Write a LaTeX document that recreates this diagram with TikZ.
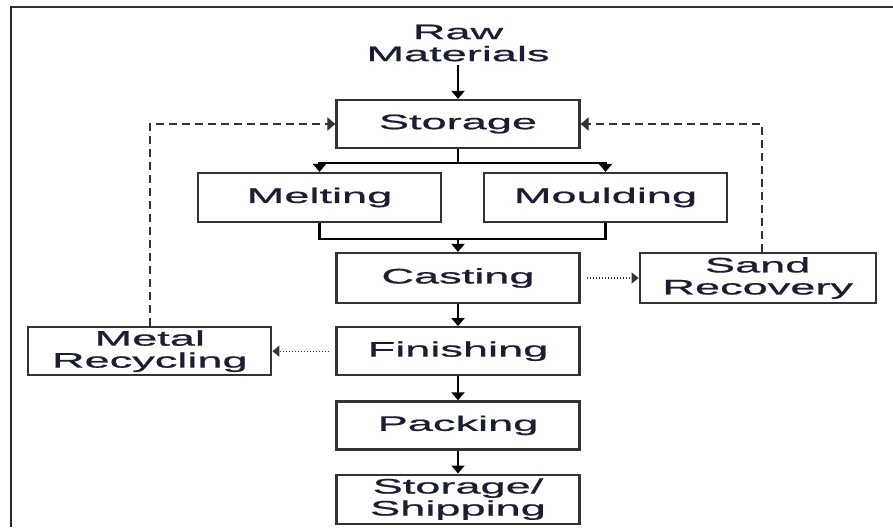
\documentclass[tikz,border=0pt]{standalone}
\usepackage{fontspec}
\setmainfont{Liberation Sans}[FakeStretch=2.15, FakeBold=0.9]
\usepackage{xcolor}
\usetikzlibrary{arrows.meta,positioning}

\definecolor{ink}{HTML}{1B1E33}

\begin{document}
\begin{tikzpicture}[
      x=1pt, y=-1pt,
      node distance=23pt,
      label/.style={align=center, text=ink, font=\fontsize{21}{22}\selectfont},
      box/.style={label, draw=black!80, line width=2.2pt, fill=white, inner sep=0pt, minimum width=243pt, minimum height=48pt},
      arrow/.style={line width=2.2pt, -{Triangle[length=8pt,width=13pt]}, draw=black},
      feedback/.style={line width=2.2pt, dash pattern=on 8pt off 5pt, -{Triangle[length=8pt,width=13pt]}, draw=black!80},
      waste/.style={line width=1.3pt, dash pattern=on 1.5pt off 1.5pt, -{Triangle[length=7pt,width=11pt]}, draw=black!80, shorten <=6pt}
      ]
      \useasboundingbox (0,0) rectangle (893,527);

      % Frame
      \draw [black!80, line width=1.5pt] (893,7) -- (11,7);
      \draw [black!85, line width=2.5pt] (11,6.25) -- (11,527);

      % Nodes
      \node (raw) [label] at (458,43) {Raw\\Materials};
      \node (storage) [box] at (458,124) {Storage};
      \node (melting) [box, minimum height=49pt] at (319.5,197.5) {Melting};
      \node (moulding) [box, minimum height=49pt] at (605.5,197.5) {Moulding};
      \node (casting) [box, minimum height=50pt] at (458,278) {Casting};
      \node (sand) [box, minimum width=236pt, minimum height=50pt, right=58pt of casting] {Sand\\Recovery};
      \node (finishing) [box, below=22pt of casting] {Finishing};
      \node (metal) [box, left=63pt of finishing] {Metal\\Recycling};
      \node (packing) [box, below=24pt of finishing] {Packing};
      \node (shipping) [box, minimum height=49pt, below=23pt of packing] {Storage/\\Shipping};

      % Arrows
      \draw [arrow] (raw) -- (storage);
      \draw [line width=2.2pt] (storage.south) -- ++(0,14) coordinate (split);
      \draw [arrow] (split) -| (melting.north);
      \draw [arrow] (split) -| (moulding.north);
      \draw [line width=2.2pt] (melting.south) -- ++(0,16) coordinate (join) -| (moulding.south);
      \draw [arrow] (join -| casting.north) -- (casting.north);
      \draw [arrow] (casting) -- (finishing);
      \draw [arrow] (finishing) -- (packing);
      \draw [arrow] (packing) -- (shipping);

      % Recycling loops
      \draw [waste] (casting) -- (sand);
      \draw [waste] (finishing) -- (metal);
      \draw [feedback] ([xshift=4pt]sand.north) |- (storage.east);
      \draw [feedback] (metal.north) |- (storage.west);

    \end{tikzpicture}
\end{document}
